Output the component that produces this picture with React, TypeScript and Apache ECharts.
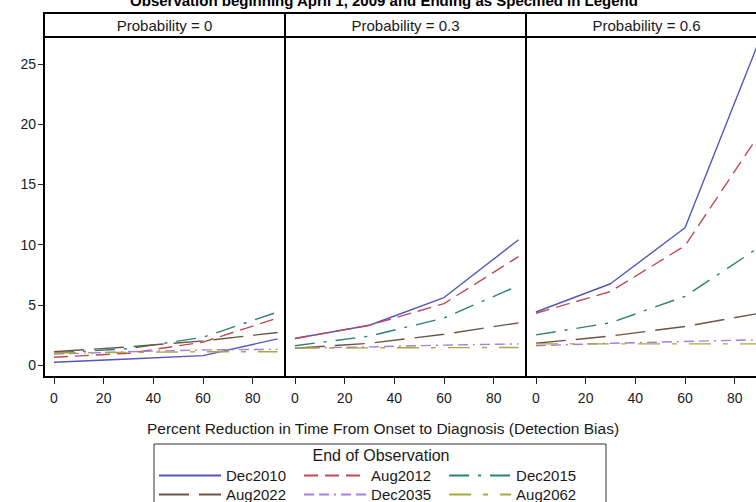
import React, { useEffect, useRef } from "react";
import * as echarts from "echarts";

const titleText = "Observation beginning April 1, 2009 and Ending as Specified in Legend";
const panelLabels = ["Probability = 0", "Probability = 0.3", "Probability = 0.6"];
const xAxisTitle = "Percent Reduction in Time From Onset to Diagnosis (Detection Bias)";
const legendTitle = "End of Observation";

const xValues = [0, 30, 60, 90];
const xTicks = [0, 20, 40, 60, 80];
const yTicks = [0, 5, 10, 15, 20, 25];
const seriesNames = ["Dec2010", "Aug2012", "Dec2015", "Aug2022", "Dec2035", "Aug2062"];

// rows follow seriesNames, columns follow xValues
const prob0: number[][] = [
  [0.22, 0.5, 0.78, 2.17],
  [0.64, 0.97, 1.9, 3.9],
  [1.0, 1.35, 2.3, 4.4],
  [1.1, 1.5, 2.0, 2.7],
  [0.9, 1.1, 1.25, 1.3],
  [1.0, 1.05, 1.1, 1.1],
];
const prob03: number[][] = [
  [2.2, 3.3, 5.6, 10.4],
  [2.2, 3.3, 5.1, 9.0],
  [1.6, 2.4, 3.9, 6.6],
  [1.4, 1.8, 2.55, 3.5],
  [1.4, 1.5, 1.65, 1.75],
  [1.4, 1.42, 1.44, 1.45],
];
const prob06: number[][] = [
  [4.4, 6.75, 11.4, 27.0],
  [4.3, 6.1, 9.9, 19.2],
  [2.5, 3.5, 5.7, 9.8],
  [1.8, 2.4, 3.2, 4.3],
  [1.6, 1.8, 1.95, 2.1],
  [1.75, 1.75, 1.75, 1.75],
];
const panelData = [prob0, prob03, prob06];

// styles
const FONT = "'Liberation Sans', Arial, Helvetica, sans-serif";
const TEXT = "#1a1a1a";
const colors = ["#5257b8", "#c04858", "#2a8270", "#6e5440", "#a47ee0", "#a8a840"];
const dashes: any[] = [
  "solid",
  [14, 7],
  [20, 9, 3, 9],
  [30, 10],
  [10, 5, 10, 5, 2, 5],
  [22, 12, 5, 12],
];
const GRID_LEFT = [44, 285, 526];
const GRID_W = 241;
const GRID_TOP = 37;
const GRID_H = 340;
const HEADER_TOP = 13;

export default function App() {
  const ref = useRef<HTMLDivElement>(null);
  useEffect(() => {
    if (!ref.current) return;
    const chart = echarts.init(ref.current, null, { renderer: "svg" });

    const series: any[] = [];
    panelData.forEach((rows, p) => {
      rows.forEach((vals, s) => {
        series.push({
          type: "line",
          name: seriesNames[s],
          xAxisIndex: p,
          yAxisIndex: p,
          data: vals.map((v, k) => [xValues[k], v]),
          symbol: "none",
          silent: true,
          lineStyle: { color: colors[s], width: 1.4, type: dashes[s] },
          itemStyle: { color: colors[s] },
          z: 3,
        });
      });
    });

    const graphics: any[] = [
      {
        type: "text",
        x: 384,
        y: 0,
        style: {
          text: titleText,
          font: `bold 15px ${FONT}`,
          fill: "#000",
          textAlign: "center",
          textVerticalAlign: "middle",
        },
      },
      {
        type: "text",
        x: 383,
        y: 428,
        style: {
          text: xAxisTitle,
          font: `15.5px ${FONT}`,
          fill: TEXT,
          textAlign: "center",
          textVerticalAlign: "middle",
        },
      },
      {
        type: "rect",
        shape: { x: 154, y: 444, width: 452, height: 80 },
        style: { fill: "none", stroke: "#333", lineWidth: 1 },
      },
      {
        type: "text",
        x: 381,
        y: 455,
        style: {
          text: legendTitle,
          font: `16px ${FONT}`,
          fill: TEXT,
          textAlign: "center",
          textVerticalAlign: "middle",
        },
      },
    ];
    panelLabels.forEach((lab, i) => {
      graphics.push({
        type: "rect",
        shape: { x: GRID_LEFT[i], y: HEADER_TOP, width: GRID_W, height: GRID_TOP - HEADER_TOP },
        style: { fill: "#fff", stroke: "#000", lineWidth: 2 },
      });
      graphics.push({
        type: "text",
        x: GRID_LEFT[i] + GRID_W / 2,
        y: (HEADER_TOP + GRID_TOP) / 2 + 0.5,
        style: {
          text: lab,
          font: `15px ${FONT}`,
          fill: TEXT,
          textAlign: "center",
          textVerticalAlign: "middle",
        },
      });
    });

    const legendCommon = {
      orient: "horizontal",
      itemWidth: 62,
      itemHeight: 14,
      itemGap: 17,
      padding: 0,
      selectedMode: false,
      itemStyle: { opacity: 0 },
      textStyle: { fontSize: 15, color: TEXT, fontFamily: FONT },
    };

    const option: any = {
      animation: false,
      grid: GRID_LEFT.map((l) => ({
        left: l,
        top: GRID_TOP,
        width: GRID_W,
        height: GRID_H,
        show: true,
        containLabel: false,
        outerBoundsMode: "none",
        borderColor: "#000",
        borderWidth: 2,
        backgroundColor: "transparent",
      })),
      xAxis: panelLabels.map((_, i) => ({
        type: "value",
        gridIndex: i,
        min: -4,
        max: 93,
        axisLine: { show: true, onZero: false, lineStyle: { color: "#000", width: 1 } },
        axisTick: { show: true, length: 7, customValues: xTicks, lineStyle: { color: "#222" } },
        axisLabel: { customValues: xTicks, margin: 14, fontSize: 14, color: TEXT, fontFamily: FONT },
        splitLine: { show: false },
      })),
      yAxis: panelLabels.map((_, i) => ({
        type: "value",
        gridIndex: i,
        min: -1,
        max: 27.25,
        axisLine: { show: i === 0, onZero: false, lineStyle: { color: "#000", width: 1 } },
        axisTick: { show: i === 0, length: 6, customValues: yTicks, lineStyle: { color: "#222" } },
        axisLabel: { show: i === 0, customValues: yTicks, margin: 8, fontSize: 14, color: TEXT, fontFamily: FONT },
        splitLine: { show: false },
      })),
      legend: [
        { ...legendCommon, left: 158, top: 468, data: seriesNames.slice(0, 3) },
        { ...legendCommon, left: 158, top: 487, data: seriesNames.slice(3, 6) },
      ],
      graphic: graphics,
      series,
    };
    chart.setOption(option);
    return () => chart.dispose();
  }, []);

  return (
    <div
      ref={ref}
      style={{ position: "absolute", left: 0, top: 0, width: 756, height: 502, background: "#fff" }}
    />
  );
}
